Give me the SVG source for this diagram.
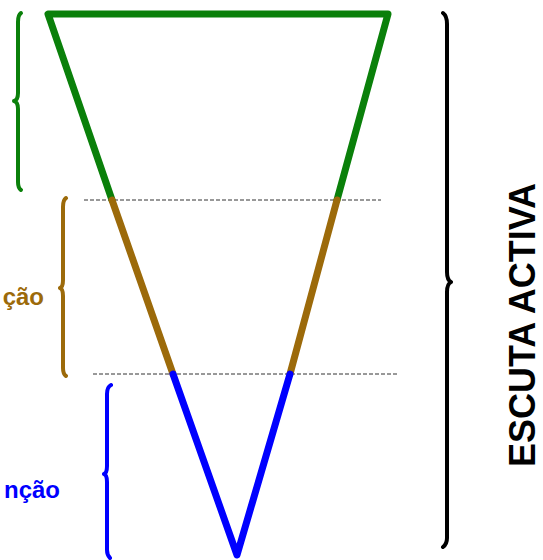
<svg xmlns="http://www.w3.org/2000/svg" width="543" height="560" viewBox="0 0 543 560">
<style>
.tri{fill:none;stroke-width:7;stroke-linecap:round;stroke-linejoin:round}
.brace{fill:none;stroke-width:4;stroke-linecap:round;stroke-linejoin:round}
.dash{stroke:#333;stroke-width:1;stroke-dasharray:4,2;fill:none}
.lbl{font-family:"Liberation Sans",Arial,sans-serif;font-weight:bold;font-size:24px}
.big{font-size:36px}
.g{stroke:#0a800a}.b{stroke:#9c6a0a}.u{stroke:#0000ff}.k{stroke:#000}
</style>
<rect width="543" height="560" fill="#fff"/>
<g id="connectors">
<line class="dash" x1="84" y1="200" x2="381" y2="200"/>
<line class="dash" x1="93" y1="374" x2="398" y2="374"/>
</g>
<g id="triangle">
<polyline class="tri g" points="112,200 48,14 388,14 337,200"/>
<line class="tri b" x1="112" y1="200" x2="173" y2="374"/>
<line class="tri b" x1="337" y1="200" x2="290" y2="374"/>
<polyline class="tri u" points="173,374 237,555 290,374"/>
</g>
<g id="brace-green">
<path class="brace g" d="M21,13 Q18,15 18,22 L18,93 Q18,100 14,101 Q18,102 18,109 L18,182 Q18,188 21,190"/>
</g>
<g id="brace-brown">
<path class="brace b" d="M66,198 Q63,200 63,207 L63,280 Q63,287 60,288 Q63,289 63,296 L63,368 Q63,374 66,376"/>
</g>
<g id="label-brown">
<text class="lbl" x="44" y="305" text-anchor="end" fill="#9c6a0a">ção</text>
</g>
<g id="brace-blue">
<path class="brace u" d="M111,385 Q107,387 107,394 L107,466 Q107,473 104,474 Q107,475 107,482 L107,550 Q107,555 110,558"/>
</g>
<g id="label-blue">
<text class="lbl" x="60" y="498" text-anchor="end" fill="#0000ff">nção</text>
</g>
<g id="brace-black">
<path class="brace k" d="M443,13 Q447,16 447,24 L447,272 Q447,280 451,282 Q447,284 447,292 L447,538 Q447,544 443,547"/>
</g>
<g id="label-escuta">
<text class="lbl big" transform="translate(535,467) rotate(-90)" fill="#000">ESCUTA ACTIVA</text>
</g>
</svg>
